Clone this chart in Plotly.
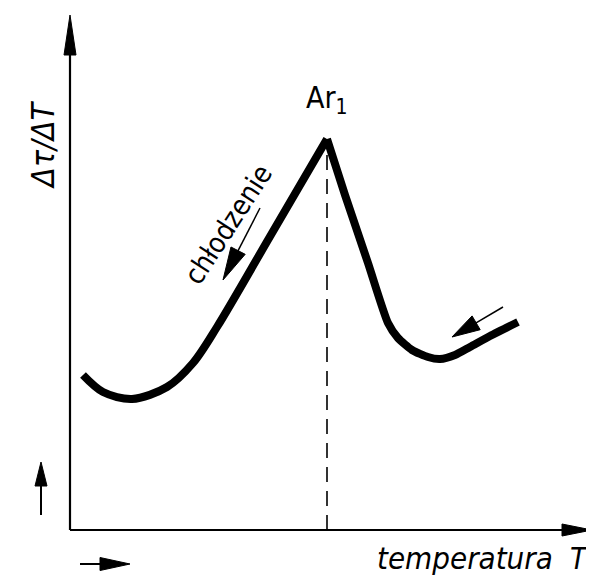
import math
import plotly.graph_objects as go

# ---- data (arbitrary units; schematic) ----
temp_left = [0.26, 0.66, 1.24, 1.94, 2.46, 2.94, 4.00, 5.14]
val_left = [3.10, 2.76, 2.62, 2.86, 3.34, 4.06, 5.87, 7.82]
temp_right = [5.14, 5.50, 5.96, 6.36, 6.56, 6.84, 7.16, 7.40, 7.70, 8.00, 8.40, 8.96]
val_right = [7.82, 6.70, 5.34, 4.14, 3.84, 3.60, 3.46, 3.42, 3.50, 3.66, 3.88, 4.16]
peak_T = 5.14
peak_val = 7.82
y_axis_max = 10.3
x_axis_max = 10.44

y_label = "Δτ/ΔT"
x_label = "temperatura"
x_symbol = "T"
peak_label = "Ar<sub>1</sub>"
cooling_label = "chłodzenie"

FONT = "DejaVu Sans Condensed, DejaVu Sans, sans-serif"

fig = go.Figure()

fig.add_trace(go.Scatter(x=temp_left, y=val_left, mode="lines",
                         line=dict(color="black", width=8, shape="spline", smoothing=0.9),
                         hoverinfo="skip", showlegend=False))
fig.add_trace(go.Scatter(x=temp_right, y=val_right, mode="lines",
                         line=dict(color="black", width=8, shape="spline", smoothing=0.6),
                         hoverinfo="skip", showlegend=False))
# dashed drop line at Ar1
fig.add_trace(go.Scatter(x=[peak_T, peak_T], y=[0, peak_val], mode="lines",
                         line=dict(color="black", width=1.6, dash="15px,9px"),
                         hoverinfo="skip", showlegend=False))

shapes = []


def arrow(tail, tip, head_len, half_w, lw):
    dx, dy = tip[0] - tail[0], tip[1] - tail[1]
    n = math.hypot(dx, dy)
    ux, uy = dx / n, dy / n
    bx, by = tip[0] - ux * head_len, tip[1] - uy * head_len
    px, py = -uy * half_w, ux * half_w
    shapes.append(dict(type="line", xref="x", yref="y", x0=tail[0], y0=tail[1],
                       x1=bx + ux * 0.05, y1=by + uy * 0.05,
                       line=dict(color="black", width=lw)))
    shapes.append(dict(type="path", xref="x", yref="y",
                       path=f"M {tip[0]} {tip[1]} L {bx+px} {by+py} L {bx-px} {by-py} Z",
                       fillcolor="black", line=dict(color="black", width=1)))


# axes
arrow((0, 0), (0, y_axis_max), 0.8, 0.12, 2.2)
arrow((0, 0), (x_axis_max, 0), 0.6, 0.12, 2.2)
# small direction arrows
arrow((-0.58, 0.30), (-0.58, 1.36), 0.48, 0.12, 2)
arrow((0.20, -0.68), (1.20, -0.68), 0.60, 0.13, 2)
# cooling arrows
arrow((3.80, 6.44), (3.06, 5.00), 0.66, 0.16, 1.5)
arrow((8.66, 4.46), (7.64, 3.86), 0.56, 0.16, 1.5)

fig.update_layout(shapes=shapes)

ann = [
    dict(x=peak_T, y=8.62, text=peak_label, font=dict(size=30)),
    dict(x=-0.54, y=7.70, text=y_label, textangle=-90,
         font=dict(size=32, style="italic")),
    dict(x=3.16, y=6.12, text=cooling_label, textangle=-57, font=dict(size=28)),
    dict(x=7.90, y=-0.56, text=x_label, font=dict(size=31, style="italic")),
    dict(x=10.18, y=-0.56, text=x_symbol, font=dict(size=30, style="italic")),
]
for a in ann:
    a.update(xref="x", yref="y", showarrow=False, xanchor="center", yanchor="middle")
    a["font"].update(family=FONT, color="black")
fig.update_layout(annotations=ann)

# page body has an 8px margin, so the figure is 8px smaller and ranges start 8px in
fig.update_layout(
    width=586, height=568,
    margin=dict(l=0, r=0, t=0, b=0),
    paper_bgcolor="white", plot_bgcolor="white",
    xaxis=dict(range=[-1.24, 10.48], visible=False, fixedrange=True),
    yaxis=dict(range=[-0.92, 10.44], visible=False, fixedrange=True),
)

fig.write_html("out.html", config={"displayModeBar": False})
